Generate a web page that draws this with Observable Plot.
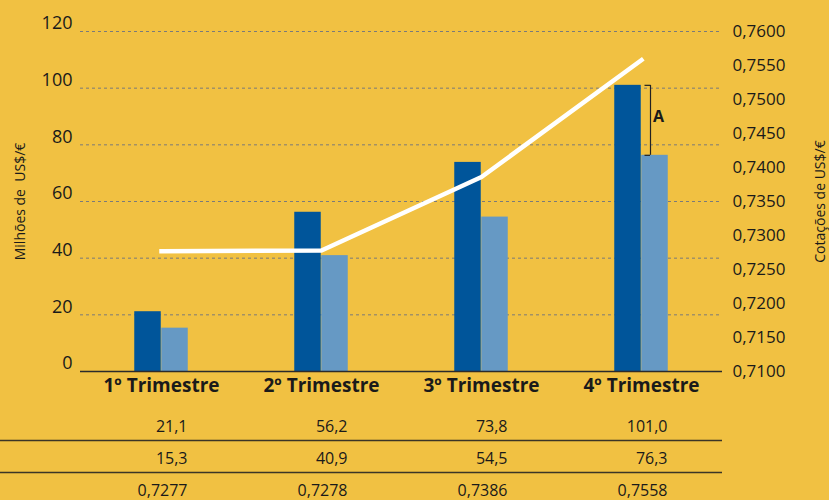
<!DOCTYPE html>
<html>
<head>
<meta charset="utf-8">
<script src="https://cdn.jsdelivr.net/npm/d3@7"></script>
<script src="https://cdn.jsdelivr.net/npm/@observablehq/plot@0.6"></script>
<style>
  html, body { margin: 0; padding: 0; background: #F1C142; }
  #wrap { width: 829px; height: 500px; background: #F1C142; overflow: hidden; }
  #wrap svg { display: block; }
</style>
</head>
<body>
<div id="wrap"></div>
<script>
// ---- data ----
const categories = ["1º Trimestre", "2º Trimestre", "3º Trimestre", "4º Trimestre"];
const serieA = [21.1, 56.2, 73.8, 101.0];      // dark bars (Milhões de US$/€)
const serieB = [15.3, 40.9, 54.5, 76.3];       // light bars
const cotacoes = [0.7277, 0.7278, 0.7386, 0.7558]; // white line (right axis)
const leftDomain = [0, 120];
const leftTicks = [0, 20, 40, 60, 80, 100, 120];
const rightDomain = [0.7100, 0.7600];
const rightTicks = [0.7100, 0.7150, 0.7200, 0.7250, 0.7300, 0.7350, 0.7400, 0.7450, 0.7500, 0.7550, 0.7600];
const leftLabel = "Milhões de  US$/€";
const rightLabel = "Cotações de US$/€";
const annotationLabel = "A";

// ---- helpers ----
const comma = s => s.replace(".", ",");
const toLeft = v => (v - rightDomain[0]) / (rightDomain[1] - rightDomain[0]) * (leftDomain[1] - leftDomain[0]) + leftDomain[0];
const toRight = v => (v - leftDomain[0]) / (leftDomain[1] - leftDomain[0]) * (rightDomain[1] - rightDomain[0]) + rightDomain[0];

const rows = categories.map((c, i) => ({cat: c, a: serieA[i], b: serieB[i], r: cotacoes[i]}));
const ann = [{cat: categories[3], top: serieA[3], bottom: serieB[3], label: annotationLabel}];

const INK = "#1a1a1a";
const DARK = "#00559A";
const LIGHT = "#6699C4";

const chart = Plot.plot({
  width: 829, height: 400,
  marginLeft: 80, marginRight: 107, marginTop: 31, marginBottom: 29,
  style: {background: "transparent", fontFamily: "'Open Sans', sans-serif", color: INK, overflow: "visible"},
  x: {type: "band", domain: categories, padding: 0, axis: null},
  y: {domain: leftDomain, axis: null},
  marks: [
    Plot.ruleY(leftTicks.filter(t => t > 0), {stroke: "#7a7a7a", strokeDasharray: "3,3", strokeWidth: 1}),
    Plot.barY(rows, {x: "cat", y: "a", fill: DARK, insetLeft: 53.25, insetRight: 80.25}),
    Plot.barY(rows, {x: "cat", y: "b", fill: LIGHT, insetLeft: 80.25, insetRight: 53.25}),
    Plot.ruleY([0], {stroke: "#2b2b2b", strokeWidth: 1.5}),
    Plot.line(rows, {x: "cat", y: d => toLeft(d.r), stroke: "white", strokeWidth: 4.5, strokeLinecap: "square", strokeLinejoin: "miter"}),
    // bracket annotation "A"
    Plot.ruleX(ann, {x: "cat", y1: "top", y2: "bottom", dx: 9, stroke: "#222", strokeWidth: 1.2}),
    Plot.tickY(ann, {x: "cat", y: "top", insetLeft: 83.5, insetRight: 71, stroke: "#222", strokeWidth: 1.2}),
    Plot.tickY(ann, {x: "cat", y: "bottom", insetLeft: 83.5, insetRight: 71, stroke: "#222", strokeWidth: 1.2}),
    Plot.text(ann, {x: "cat", y: d => (d.top + d.bottom) / 2, text: "label", dx: 17, dy: -3, fontWeight: "bold", fontSize: 16, fill: INK}),
    // axes
    Plot.axisY(leftTicks, {anchor: "left", tickSize: 0, tickPadding: 8, dy: -8, fontSize: 18, label: null, tickFormat: d => String(d)}),
    Plot.axisY(rightTicks.map(toLeft), {anchor: "right", tickSize: 0, tickPadding: 10, fontSize: 17, label: null,
      tickFormat: d => comma(toRight(d).toFixed(4))}),
    Plot.axisX({tickSize: 0, tickPadding: 7, fontSize: 19, fontWeight: "bold", label: null}),
    Plot.text([leftLabel], {frameAnchor: "left", textAnchor: "middle", dx: -60, rotate: -90, fontSize: 14, fill: INK}),
    Plot.text([rightLabel], {frameAnchor: "right", textAnchor: "middle", dx: 98, rotate: -90, fontSize: 14, fill: INK})
  ]
});

const tableRows = [];
rows.forEach(d => {
  tableRows.push({cat: d.cat, row: "a", label: comma(d.a.toFixed(1))});
  tableRows.push({cat: d.cat, row: "b", label: comma(d.b.toFixed(1))});
  tableRows.push({cat: d.cat, row: "r", label: comma(d.r.toFixed(4))});
});

const table = Plot.plot({
  width: 829, height: 100,
  marginLeft: 0, marginRight: 107, marginTop: 0, marginBottom: 0,
  style: {background: "transparent", fontFamily: "'Open Sans', sans-serif", color: INK, overflow: "visible"},
  x: {type: "band", domain: categories, range: [80, 722], padding: 0, axis: null},
  y: {type: "band", domain: ["a", "b", "r"], range: [10, 106], padding: 0, axis: null},
  marks: [
    Plot.ruleY(["b", "r"], {dy: -18, stroke: "#3b3526", strokeWidth: 1.6}),
    Plot.text(tableRows, {x: "cat", y: "row", text: "label", textAnchor: "end", dx: 26, fontSize: 16, fill: INK})
  ]
});

const wrap = document.getElementById("wrap");
wrap.appendChild(chart);
wrap.appendChild(table);
</script>
</body>
</html>
